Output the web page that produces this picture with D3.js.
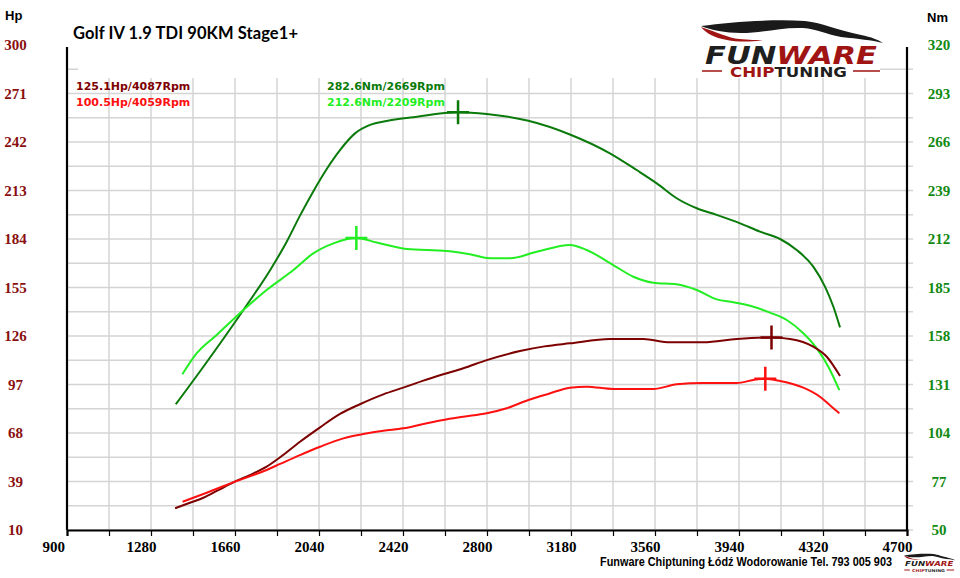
<!DOCTYPE html>
<html>
<head>
<meta charset="utf-8">
<script src="https://cdn.jsdelivr.net/npm/d3@7"></script>
<style>
    body { margin: 0; background: #fff; }
    svg { display: block; }
</style>
</head>
<body>
<svg id="dyno"></svg>
<script>
"use strict";

const width = 960;
const height = 578;

// rpm / value pairs
const hpStockRpm = [1389, 1450, 1517, 1580, 1652, 1730, 1803, 1864, 1954, 2045, 2135, 2225, 2331, 2421, 2512, 2602, 2693, 2799, 2949, 3060, 3175, 3356, 3507, 3628, 3779, 3930, 4087, 4171, 4276, 4337, 4397];
const hpStock = [23.0, 26.0, 29.3, 33.5, 38.5, 43.0, 47.9, 53.5, 62.8, 71.4, 79.4, 85.2, 91.1, 95.1, 99.3, 103.1, 106.7, 111.6, 117.0, 119.8, 121.6, 124.2, 124.2, 122.2, 122.2, 124.2, 125.1, 124.2, 119.6, 113.6, 102.1];

const hpTunedRpm = [1423, 1532, 1652, 1803, 1864, 1954, 2045, 2150, 2240, 2331, 2421, 2512, 2602, 2693, 2799, 2889, 2987, 3080, 3175, 3251, 3371, 3552, 3658, 3779, 3930, 4005, 4059, 4126, 4231, 4306, 4359, 4394];
const hpTuned = [26.9, 32.3, 38.5, 45.9, 49.5, 54.8, 59.8, 64.8, 67.4, 69.4, 70.8, 73.4, 75.8, 77.7, 79.8, 82.8, 87.7, 91.5, 95.1, 95.7, 94.3, 94.3, 97.1, 97.9, 97.9, 99.7, 100.5, 99.1, 95.1, 89.7, 83.7, 79.8];

const nmStockRpm = [1392, 1517, 1698, 1818, 1894, 1954, 2014, 2075, 2135, 2203, 2271, 2346, 2467, 2669, 2799, 2987, 3175, 3356, 3477, 3568, 3658, 3749, 3839, 3945, 4035, 4126, 4201, 4276, 4329, 4367, 4397];
const nmStock = [120.0, 140.9, 172.5, 194.5, 210.5, 225.0, 238.5, 251.0, 261.5, 270.8, 275.5, 277.7, 279.8, 282.6, 281.6, 277.8, 270.2, 259.7, 250.4, 243.0, 234.7, 229.1, 225.4, 220.7, 216.1, 212.0, 205.9, 196.6, 185.5, 174.3, 162.8];

const nmTunedRpm = [1422, 1487, 1577, 1698, 1803, 1924, 2014, 2105, 2209, 2301, 2437, 2618, 2723, 2814, 2904, 3025, 3175, 3251, 3371, 3462, 3552, 3658, 3749, 3839, 3914, 4005, 4080, 4156, 4231, 4291, 4344, 4394];
const nmTuned = [136.7, 148.4, 158.6, 172.5, 183.6, 194.7, 204.0, 209.6, 212.6, 210.0, 206.4, 205.3, 203.5, 201.3, 201.3, 204.9, 208.7, 205.9, 197.5, 191.0, 187.7, 186.8, 183.6, 178.4, 176.8, 174.3, 171.0, 166.9, 159.5, 151.2, 140.9, 127.9];

// peaks: [rpm, value]
const peakHpStock = [4087, 125.1];
const peakHpTuned = [4059, 100.5];
const peakNmStock = [2669, 282.6];
const peakNmTuned = [2209, 212.6];

const hpTicks = [10, 39, 68, 97, 126, 155, 184, 213, 242, 271, 300];
const nmTicks = [50, 77, 104, 131, 158, 185, 212, 239, 266, 293, 320];
const rpmLabels = [900, 1280, 1660, 2040, 2420, 2800, 3180, 3560, 3940, 4320, 4700];

const c_hp1 = "#7d0000";
const c_hp2 = "#ff1010";
const c_nm1 = "#0a7a0a";
const c_nm2 = "#22ee22";

const plotLeft = 67, plotRight = 907, plotTop = 45, plotBottom = 530;

const x = d3.scaleLinear([900, 4700], [plotLeft, plotRight]);
const yHp = d3.scaleLinear([10, 300], [plotBottom, plotTop]);
const yNm = d3.scaleLinear([50, 320], [plotBottom, plotTop]);

const svg = d3.select("#dyno")
    .attr("width", width)
    .attr("height", height)
    .style("background", "#fff");

// grid
const grid = svg.append("g");
const gridRpm = d3.range(900, 4701, 190);
const gridHp = d3.range(10, 299, 14.5);

grid.selectAll(".vg")
    .data(gridRpm.slice(1, -1))
    .enter().append("line")
    .attr("x1", d => x(d)).attr("x2", d => x(d))
    .attr("y1", 78).attr("y2", plotBottom)
    .attr("stroke", "#d4d4d4").attr("stroke-width", 1.5);

grid.selectAll(".hg")
    .data(gridHp)
    .enter().append("line")
    .attr("x1", plotLeft).attr("x2", plotRight + 6)
    .attr("y1", d => yHp(d)).attr("y2", d => yHp(d))
    .attr("stroke", "#d4d4d4").attr("stroke-width", 1.5);

// the header box hides the top grid row
svg.append("rect")
    .attr("x", plotLeft + 11).attr("y", 60)
    .attr("width", plotRight - plotLeft - 38).attr("height", 17)
    .attr("fill", "#fff");

// axes
const axisX = svg.append("g")
    .attr("transform", `translate(0, ${plotBottom})`)
    .call(d3.axisBottom(x)
        .tickValues(gridRpm)
        .tickSize(6)
        .tickPadding(5)
        .tickFormat(d => rpmLabels.includes(d) ? d : ""));
axisX.select(".domain").attr("stroke", "#000").attr("stroke-width", 2.2);
axisX.selectAll(".tick line").attr("stroke", "#000").attr("stroke-width", 1.2);
axisX.selectAll("text")
    .attr("x", -25)
    .attr("text-anchor", "start")
    .attr("fill", "#000")
    .style("font-family", "'Liberation Serif', serif")
    .style("font-weight", "bold")
    .style("font-size", "15px");

const axisL = svg.append("g")
    .attr("transform", `translate(${plotLeft}, 0)`)
    .call(d3.axisLeft(yHp).tickValues(hpTicks).tickSize(0));
axisL.select(".domain").attr("d", `M0,${plotTop + 2}V${plotBottom}`).attr("stroke", "#000").attr("stroke-width", 2.2);
axisL.selectAll("text")
    .attr("x", 15.5 - plotLeft)
    .attr("text-anchor", "middle")
    .attr("fill", "#8a1010")
    .style("font-family", "'Liberation Serif', serif")
    .style("font-weight", "bold")
    .style("font-size", "15px");

const axisR = svg.append("g")
    .attr("transform", `translate(${plotRight}, 0)`)
    .call(d3.axisRight(yNm).tickValues(nmTicks).tickSize(0));
axisR.select(".domain").attr("d", `M0,${plotTop + 2}V${plotBottom}`).attr("stroke", "#000").attr("stroke-width", 2.2);
axisR.selectAll("text")
    .attr("x", 939 - plotRight)
    .attr("text-anchor", "middle")
    .attr("fill", "#128a12")
    .style("font-family", "'Liberation Serif', serif")
    .style("font-weight", "bold")
    .style("font-size", "15px");

// curves
function curve(rpms, vals, yScale, color) {
    const pts = rpms.map((r, i) => [r, vals[i]]);
    const line = d3.line()
        .x(d => x(d[0]))
        .y(d => yScale(d[1]))
        .curve(d3.curveMonotoneX);
    svg.append("path")
        .datum(pts)
        .attr("d", line)
        .attr("fill", "none")
        .attr("stroke", color)
        .attr("stroke-width", 2);
}

function marker(peak, yScale, color) {
    const cx = x(peak[0]), cy = yScale(peak[1]);
    svg.append("path")
        .attr("d", `M${cx},${cy - 12}V${cy + 12}M${cx - 11},${cy}H${cx + 11}`)
        .attr("stroke", color)
        .attr("stroke-width", 2.5);
}

curve(nmStockRpm, nmStock, yNm, c_nm1);
curve(nmTunedRpm, nmTuned, yNm, c_nm2);
curve(hpStockRpm, hpStock, yHp, c_hp1);
curve(hpTunedRpm, hpTuned, yHp, c_hp2);

marker(peakNmStock, yNm, c_nm1);
marker(peakNmTuned, yNm, c_nm2);
marker(peakHpStock, yHp, c_hp1);
marker(peakHpTuned, yHp, c_hp2);

// texts
const labelFont = "'DejaVu Sans', Verdana, sans-serif";

svg.append("text")
    .attr("x", 5).attr("y", 20)
    .style("font-family", "'Liberation Sans', Arial, sans-serif")
    .style("font-weight", "bold").style("font-size", "13px")
    .text("Hp");

svg.append("text")
    .attr("x", 927).attr("y", 22)
    .style("font-family", "'Liberation Sans', Arial, sans-serif")
    .style("font-weight", "bold").style("font-size", "13px")
    .text("Nm");

svg.append("text")
    .attr("x", 73).attr("y", 39)
    .attr("textLength", 225)
    .style("font-family", "Lato, 'Open Sans', sans-serif")
    .style("font-weight", "bold").style("font-size", "16.5px")
    .text("Golf IV 1.9 TDI 90KM Stage1+");

const peakLabels = [
    [76, 90, `${peakHpStock[1]}Hp/${peakHpStock[0]}Rpm`, c_hp1],
    [76, 106, `${peakHpTuned[1]}Hp/${peakHpTuned[0]}Rpm`, c_hp2],
    [327, 90, `${peakNmStock[1]}Nm/${peakNmStock[0]}Rpm`, c_nm1],
    [327, 106, `${peakNmTuned[1]}Nm/${peakNmTuned[0]}Rpm`, c_nm2]
];
svg.selectAll(".peak")
    .data(peakLabels)
    .enter().append("text")
    .attr("x", d => d[0]).attr("y", d => d[1])
    .attr("fill", d => d[3])
    .style("font-family", labelFont)
    .style("font-weight", "bold").style("font-size", "11px")
    .text(d => d[2]);

// logo (s = scale, gap = extra room under the big word)
function logo(g, s, gap) {
    g.append("path")
        .attr("d", "M0,6 C15,11 28,17 38,18 C48,19 56,19 62,19 C50,21 36,21 26,19 C13,17 5,12 0,6 Z")
        .attr("fill", "#a01414")
        .attr("transform", `scale(${s})`);
    g.append("path")
        .attr("d", "M0,5 C30,1 70,-2 104,0 C122,2 136,9 160,14 C170,16 178,19 182,22 C170,19 158,18 140,16 C124,13 116,8 102,7 C80,6 62,12 40,12 C24,12 10,9 0,5 Z")
        .attr("fill", "#1a1a1a")
        .attr("transform", `scale(${s})`);
    g.append("text")
        .attr("x", 4 * s).attr("y", 43 * s)
        .attr("textLength", 172 * s)
        .attr("lengthAdjust", "spacingAndGlyphs")
        .style("font-family", labelFont)
        .style("font-weight", "bold").style("font-style", "italic")
        .style("font-size", `${25 * s}px`)
        .call(t => {
            t.append("tspan").attr("fill", "#1f1f1f").text("FUN");
            t.append("tspan").attr("fill", "#a01414").text("WARE");
        });
    g.append("text")
        .attr("x", 29 * s).attr("y", 56 * s + gap)
        .attr("textLength", 117 * s)
        .attr("lengthAdjust", "spacingAndGlyphs")
        .style("font-family", labelFont)
        .style("font-weight", "bold")
        .style("font-size", `${14 * s}px`)
        .call(t => {
            t.append("tspan").attr("fill", "#a01414").text("CHIP");
            t.append("tspan").attr("fill", "#1f1f1f").text("TUNING");
        });
    g.append("path")
        .attr("d", `M${1 * s},${50 * s + gap}H${21 * s}M${152 * s},${50 * s + gap}H${179 * s}`)
        .attr("stroke", "#a01414")
        .attr("stroke-width", Math.max(1, 1.5 * s));
}

logo(svg.append("g").attr("transform", "translate(701, 21)"), 1, 0);
logo(svg.append("g").attr("transform", "translate(904, 554)"), 0.28, 2);

svg.append("text")
    .attr("x", 892).attr("y", 566)
    .attr("text-anchor", "end")
    .attr("textLength", 292)
    .attr("lengthAdjust", "spacingAndGlyphs")
    .style("font-family", "'Liberation Sans Narrow', 'Liberation Sans', Arial, sans-serif")
    .style("font-weight", "bold").style("font-size", "12px")
    .text("Funware Chiptuning Łódź Wodorowanie Tel. 793 005 903");
</script>
</body>
</html>
